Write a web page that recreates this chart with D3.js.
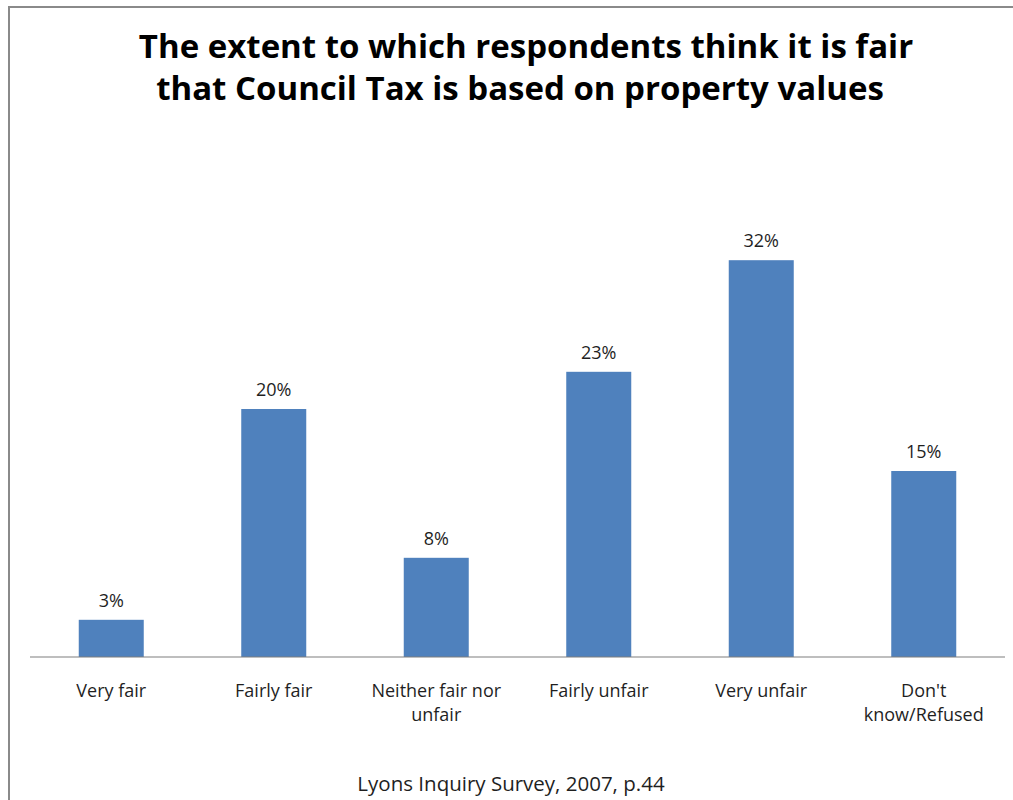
<!DOCTYPE html>
<html lang="en">
<head>
  <meta charset="UTF-8" />
  <title>Council Tax fairness</title>
  <script src="https://d3js.org/d3.v7.min.js"></script>
  <style>
    body { margin: 0; background: #fff; overflow: hidden; }
    text { font-family: "Open Sans", sans-serif; fill: #1f1f1f; }
  </style>
</head>
<body>
  <script>
    // Data
    const categories = [["Very fair"], ["Fairly fair"], ["Neither fair nor", "unfair"],
                        ["Fairly unfair"], ["Very unfair"], ["Don't", "know/Refused"]];
    const values = [3, 20, 8, 23, 32, 15];
    const titleLines = ["The extent to which respondents think it is fair",
                        "that Council Tax is based on property values"];
    const source = "Lyons Inquiry Survey, 2007, p.44";

    const width = 1013, height = 800;
    const svg = d3.select("body").append("svg")
      .attr("width", width)
      .attr("height", height);

    // Chart frame (only top and left edges fall inside the picture)
    svg.append("rect")
      .attr("x", 9).attr("y", 7)
      .attr("width", 1020).attr("height", 820)
      .attr("fill", "none")
      .attr("stroke", "#8a8a8a")
      .attr("stroke-width", 2);

    const x = d3.scaleBand()
      .domain(d3.range(values.length))
      .range([30, 1005])
      .paddingInner(0.6)
      .paddingOuter(0.3);

    const y = d3.scaleLinear()
      .domain([0, 35])
      .range([657, 223]);

    // Title, one text per line
    svg.selectAll(".title")
      .data(titleLines)
      .enter().append("text")
      .attr("class", "title")
      .attr("text-anchor", "middle")
      .attr("x", (d, i) => i === 0 ? 526 : 520)
      .attr("y", (d, i) => 58 + i * 42)
      .attr("font-size", 33)
      .attr("font-weight", "bold")
      .style("fill", "#000")
      .text(d => d);

    // Bars
    svg.selectAll(".bar")
      .data(values)
      .enter().append("rect")
      .attr("class", "bar")
      .attr("x", (d, i) => x(i))
      .attr("y", d => y(d))
      .attr("width", x.bandwidth())
      .attr("height", d => y(0) - y(d))
      .attr("fill", "#4f81bd");

    // Value labels
    svg.selectAll(".val")
      .data(values)
      .enter().append("text")
      .attr("class", "val")
      .attr("text-anchor", "middle")
      .attr("x", (d, i) => x(i) + x.bandwidth() / 2)
      .attr("y", d => y(d) - 13)
      .attr("font-size", 18)
      .text(d => d + "%");

    // Baseline
    svg.append("line")
      .attr("x1", 30).attr("x2", 1005)
      .attr("y1", y(0)).attr("y2", y(0))
      .attr("stroke", "#7f7f7f")
      .attr("stroke-width", 1.2);

    // Category labels
    svg.selectAll(".cat")
      .data(categories)
      .enter().append("text")
      .attr("class", "cat")
      .attr("text-anchor", "middle")
      .attr("font-size", 18)
      .each(function(lines, i) {
        d3.select(this).selectAll("tspan")
          .data(lines)
          .enter().append("tspan")
          .attr("x", x(i) + x.bandwidth() / 2)
          .attr("y", (d, j) => 697 + j * 24)
          .text(d => d);
      });

    // Source
    svg.append("text")
      .attr("text-anchor", "middle")
      .attr("x", 511)
      .attr("y", 791)
      .attr("font-size", 20.5)
      .text(source);
  </script>
</body>
</html>
